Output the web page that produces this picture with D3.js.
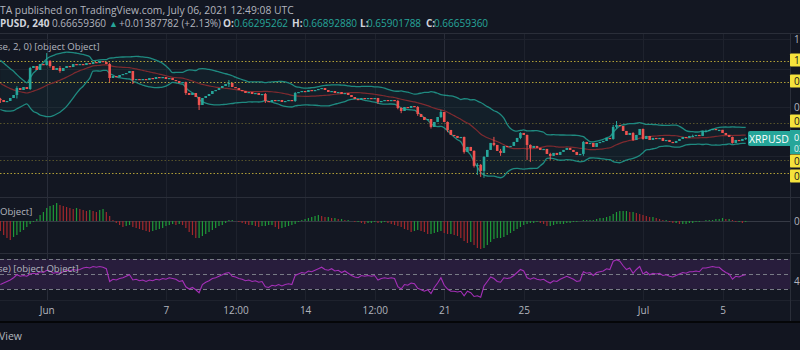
<!DOCTYPE html>
<html><head><meta charset="utf-8">
<script src="https://cdn.jsdelivr.net/npm/d3@7"></script>
<style>html,body{margin:0;padding:0;background:#131722;overflow:hidden}svg{display:block}</style>
</head><body><svg id="c" width="800" height="350"></svg>
<script>
// ---------------- DATA ----------------
// 4h closes before the visible window (Bollinger warm-up), XRPUSD
const warmupCloses = [0.870,0.900,0.930,0.950,0.980,0.960,0.990,1.010,0.990,0.970,0.980,0.960,0.950,0.970,0.990,1.010,1.020,1.040,1.030,1.010,0.990,1.000,0.980,0.970,0.950,0.930,0.900,0.880,0.890,0.870,0.860,0.880,0.870,0.850,0.860,0.840];
// visible 4h closes, from 2021-05-29 16:00 UTC
const closes = [
0.8345,0.8247,0.8296,0.8444,0.8595,0.8957,0.8852,0.9010,0.8905,1.0080,
1.0199,0.9962,1.0320,1.0260,1.0505,1.0199,0.9962,1.0080,0.9903,1.0080,
1.0199,1.0139,1.0320,1.0260,1.0320,1.0260,1.0381,1.0320,1.0443,1.0381,
1.0505,1.0443,1.0320,0.9502,0.9615,0.9558,0.9672,0.9729,0.9787,0.9903,
0.9390,0.9446,0.9390,0.9446,0.9390,0.9502,0.9446,0.9558,0.9502,0.9558,
0.9446,0.9502,0.9390,0.9335,0.9226,0.9280,0.8697,0.8595,0.8697,0.8494,
0.8102,0.8444,0.8544,0.8646,0.8800,0.8852,0.8957,0.9064,0.9171,0.9226,
0.9010,0.8957,0.8852,0.8800,0.8697,0.8748,0.8646,0.8697,0.8595,0.8646,
0.8296,0.8247,0.8345,0.8296,0.8345,0.8247,0.8296,0.8345,0.8296,0.8697,
0.8748,0.8800,0.8748,0.8852,0.8800,0.8852,0.8905,0.8957,0.8852,0.8748,
0.8800,0.8697,0.8748,0.8646,0.8697,0.8595,0.8494,0.8394,0.8345,0.8444,
0.8394,0.8444,0.8394,0.8444,0.8247,0.8296,0.8345,0.8296,0.8345,0.8296,
0.7960,0.7820,0.8007,0.7960,0.8054,0.8007,0.7683,0.7548,0.7416,0.7459,
0.7116,0.7329,0.7548,0.7774,0.7329,0.6991,0.6788,0.6748,0.6669,0.6708,
0.6140,0.6324,0.6177,0.5654,0.5688,0.5490,0.5962,0.6213,0.6475,0.6399,
0.6177,0.6104,0.6361,0.6324,0.6361,0.6513,0.6669,0.6868,0.6788,0.6399,
0.6287,0.6361,0.6287,0.6213,0.6250,0.6068,0.5997,0.6104,0.6033,0.6140,
0.6213,0.6287,0.6213,0.6140,0.6033,0.6068,0.6513,0.6437,0.6475,0.6324,
0.6475,0.6513,0.6551,0.6669,0.6629,0.7116,0.7200,0.7158,0.6950,0.6788,
0.6868,0.6590,0.6788,0.7032,0.6629,0.6748,0.6590,0.6669,0.6629,0.6669,
0.6551,0.6590,0.6513,0.6475,0.6551,0.6629,0.6708,0.6669,0.6748,0.6750,
0.6788,0.6748,0.6950,0.6955,0.6991,0.7032,0.6991,0.6995,0.6868,0.6788,
0.6708,0.6475,0.6590,0.6551,0.66295262,0.66659360];
// notable wicks: [candle index, high, low]
const wicks = [
[0,0.8450,0.8200],[5,0.9050,0.8420],[9,1.0150,0.8850],[14,1.1010,1.0230],[15,1.0560,1.0100],
[18,1.0200,0.9800],[33,1.0400,0.9280],[40,0.9900,0.9170],[56,0.9300,0.8600],[60,0.8500,0.7866],
[69,0.9390,0.9010],[80,0.8700,0.8200],[89,0.8750,0.8250],[114,0.8450,0.8150],[120,0.8350,0.7900],
[121,0.7990,0.7720],[126,0.8050,0.7600],[130,0.7450,0.7050],[133,0.7870,0.7500],[135,0.7350,0.6900],
[140,0.6720,0.6080],[143,0.6200,0.5600],[144,0.5750,0.5360],[145,0.5720,0.5299],[146,0.5990,0.5268],
[149,0.6710,0.6350],[151,0.6250,0.6000],[157,0.6900,0.6620],[159,0.6800,0.5858],[160,0.6420,0.5789],
[166,0.6110,0.5858],[176,0.6550,0.6000],[185,0.7200,0.6600],[186,0.7370,0.7050],[191,0.6900,0.6550],
[194,0.7050,0.6600],[209,0.6800,0.6700],[213,0.7000,0.6900],[221,0.6720,0.6450],[225,0.66892880,0.65901788]];
// MACD histogram per candle (x 0.001)
const macdHist = [
-10,-14,-17,-19,-16,-14,-11,-9,-6,-3,
-1,2,6,9,13,15,16,18,16,15,
14,13,12,13,12,11,10,11,10,9,
11,12,9,5,1,-2,-4,-6,-5,-4,
-6,-7,-8,-9,-10,-11,-10,-9,-8,-7,
-5,-4,-3,-4,-3,-4,-7,-11,-14,-17,
-17,-15,-13,-11,-9,-7,-5,-4,-2,1,
1,0,-1,-2,-3,-4,-4,-5,-6,-5,
-5,-4,-4,-6,-8,-7,-6,-5,-4,-3,
-1,1,2,3,4,5,6,5,4,4,
3,3,2,2,1,1,0,-1,-1,-2,
-3,-2,-2,-1,-2,-2,-1,-2,-3,-4,
-5,-6,-8,-9,-11,-10,-9,-10,-11,-13,
-13,-12,-11,-10,-12,-13,-13,-14,-15,-17,
-20,-22,-21,-24,-27,-28,-27,-24,-21,-18,
-17,-17,-16,-14,-12,-10,-8,-6,-4,-3,
-2,-2,-1,-2,-3,-5,-5,-4,-3,-3,
-3,-2,-2,-1,-1,0,1,1,1,1,
2,3,3,4,5,7,9,10,10,10,
9,9,8,7,6,5,4,4,3,2,
1,1,-1,-2,-2,-3,-3,-3,-2,-2,
-1,-1,0,1,1,1,2,2,3,2,
2,1,-1,-1,-2,-1];
// RSI(14) per candle
const rsiValues = [
36,38,40,42,45,49,47,48,47,50,
51,50,53,52,55,54,51,52,51,53,
55,54,56,55,56,58,59,58,60,59,
60,59,57,40,43,42,44,45,47,49,
42,43,41,42,40,42,41,43,42,44,
43,45,44,43,40,41,33,30,32,29,
25,36,39,41,44,45,47,49,51,52,
47,46,44,43,41,42,40,41,39,40,
33,32,35,34,36,34,36,37,36,48,
50,52,51,54,53,55,57,59,56,55,
57,54,55,52,54,51,48,46,45,48,
47,48,47,48,42,44,45,44,45,44,
33,30,36,35,38,37,31,29,27,29,
24,32,38,45,35,30,27,27,26,27,
21,27,25,20,21,19,34,40,46,44,
40,39,45,44,45,48,52,56,54,45,
43,45,43,42,43,40,38,41,40,43,
45,47,45,43,40,41,53,51,52,48,
52,53,54,57,56,67,69,67,61,56,
58,51,56,60,50,53,49,51,50,51,
48,49,47,46,48,50,52,51,53,53,
54,53,58,58,59,60,59,59,55,52,
50,43,47,46,48,49];
// horizontal support / resistance levels
const levels = [1.0530, 0.9280, 0.7300, 0.5850, 0.5420];
const levelStrong = [true, true, false, false, true];
const priceGridTicks = [1.2, 1.0, 0.8, 0.6];
const priceAxisLabels = [1.2, 0.8];
const tickDates = ["2021-06-01T00:00Z","2021-06-07T00:00Z","2021-06-10T12:00Z","2021-06-14T00:00Z","2021-06-17T12:00Z","2021-06-21T00:00Z","2021-06-25T00:00Z","2021-07-01T00:00Z","2021-07-05T00:00Z"];
const tickLabels = ["Jun","7","12:00","14","12:00","21","25","Jul","5"];
const titleText = "TA published on TradingView.com, July 06, 2021 12:49:08 UTC";
const ohlcLabels = ["PUSD, 240","0.66659360","▲","+0.01387782 (+2.13%)","O:","0.66295262","H:","0.66892880","L:","0.65901788","C:","0.66659360"];
const bbLegend = "se, 2, 0) [object Object]";
const macdLegend = "Object]";
const rsiLegend = "se) [object Object]";
const symbol = "XRPUSD";
const lastPriceText = "0.66659360";
const countdownText = "03:10:52";
const rsiLevels = [70, 50, 30];

// ---------------- SETUP ----------------
const svg = d3.select("#c");
const W = 800, H = 350, AX = 790;
const BG = "#131722", GRID = "#1e222d", SEP = "#2a2e39", TXT = "#b2b5be";
const UP = "#26a69a", DOWN = "#ef5350";
const FONT = "'Open Sans', 'Noto Sans', sans-serif";
svg.append("rect").attr("width", W).attr("height", H).attr("fill", BG);

const t0 = Date.UTC(2021, 4, 29, 16), H4 = 4 * 3600e3;
const N = closes.length;
const times = closes.map((_, i) => new Date(t0 + i * H4));
const x = d3.scaleUtc().domain([times[0], times[N - 1]]).range([0.33, 745.7]);
const y = d3.scaleLog().domain([0.5, 1.2]).range([186.7, 38.5]);

const defs = svg.append("defs");
function clip(id, y0, y1) {
  defs.append("clipPath").attr("id", id).append("rect").attr("x", 0).attr("y", y0).attr("width", AX).attr("height", y1 - y0);
}
clip("cMain", 34, 196); clip("cMacd", 198, 252); clip("cRsi", 254, 299);

// vertical grid
const tDates = tickDates.map(d => new Date(d));
svg.append("g").selectAll("line").data(tDates).join("line")
  .attr("x1", d => Math.round(x(d)) + 0.5).attr("x2", d => Math.round(x(d)) + 0.5)
  .attr("y1", 34).attr("y2", 300)
  .attr("stroke", (d, i) => (i === 0 || i === 5) ? "#292d39" : GRID).attr("stroke-width", 1);
// price grid
svg.append("g").selectAll("line").data(priceGridTicks).join("line")
  .attr("x1", 0).attr("x2", AX).attr("y1", d => Math.round(y(d)) + 0.5).attr("y2", d => Math.round(y(d)) + 0.5)
  .attr("stroke", GRID);

// separators
[[33, SEP], [197, SEP], [253, SEP], [300, GRID]].forEach(([yy, c]) => {
  svg.append("line").attr("x1", 0).attr("x2", W).attr("y1", yy + 0.5).attr("y2", yy + 0.5).attr("stroke", c);
});
svg.append("rect").attr("x", 0).attr("y", 321).attr("width", W).attr("height", 2).attr("fill", "#050608");
svg.append("rect").attr("x", 0).attr("y", 323).attr("width", W).attr("height", 27).attr("fill", "#121520");
svg.append("line").attr("x1", AX + 0.5).attr("x2", AX + 0.5).attr("y1", 34).attr("y2", 321).attr("stroke", SEP);

// ---------------- BOLLINGER (20, 2) ----------------
const all = warmupCloses.concat(closes);
const WU = warmupCloses.length;
const bb = [];
for (let k = WU; k < all.length; k++) {
  const win = all.slice(k - 19, k + 1);
  const m = d3.mean(win);
  const sd = Math.sqrt(d3.mean(win, v => (v - m) * (v - m)));
  bb.push({ t: times[k - WU], m, u: m + 2 * sd, l: m - 2 * sd });
}

// ---------------- MAIN PANE ----------------
const main = svg.append("g").attr("clip-path", "url(#cMain)");
main.append("path").datum(bb)
  .attr("d", d3.area().x(d => x(d.t)).y0(d => y(d.l)).y1(d => y(d.u)).curve(d3.curveMonotoneX))
  .attr("fill", "#26a69a").attr("fill-opacity", 0.06);
main.append("g").selectAll("line").data(levels).join("line")
  .attr("x1", 0).attr("x2", AX).attr("y1", d => Math.round(y(d)) + 0.5).attr("y2", d => Math.round(y(d)) + 0.5)
  .attr("stroke", "#d8c23c").attr("stroke-opacity", (d, i) => levelStrong[i] ? 0.8 : 0.35)
  .attr("stroke-dasharray", "1.5,2");
const ln = k => d3.line().x(d => x(d.t)).y(d => y(d[k])).curve(d3.curveMonotoneX);
main.append("path").datum(bb).attr("d", ln("m")).attr("fill", "none").attr("stroke", "#7e2a2f").attr("stroke-width", 1.2);
main.append("path").datum(bb).attr("d", ln("u")).attr("fill", "none").attr("stroke", "#1f8a80").attr("stroke-width", 1.3);
main.append("path").datum(bb).attr("d", ln("l")).attr("fill", "none").attr("stroke", "#1f8a80").attr("stroke-width", 1.3);
const wickMap = new Map(wicks.map(w => [w[0], w]));
const candles = closes.map((c, i) => {
  const o = i === 0 ? warmupCloses[WU - 1] : closes[i - 1];
  const w = wickMap.get(i);
  return { t: times[i], o, c, h: Math.max(o, c, w ? w[1] : 0), l: Math.min(o, c, w ? w[2] : 99) };
});
const cg = main.append("g");
cg.selectAll("line").data(candles).join("line")
  .attr("x1", d => x(d.t)).attr("x2", d => x(d.t)).attr("y1", d => y(d.h)).attr("y2", d => y(d.l))
  .attr("stroke", d => d.c >= d.o ? UP : DOWN).attr("stroke-width", 1);
cg.selectAll("rect").data(candles).join("rect")
  .attr("x", d => x(d.t) - 1.3).attr("width", 2.6)
  .attr("y", d => y(Math.max(d.o, d.c)))
  .attr("height", d => Math.max(1.2, Math.abs(y(d.o) - y(d.c))))
  .attr("fill", d => d.c >= d.o ? UP : DOWN);

// ---------------- MACD PANE ----------------
const hist = macdHist.map((v, i) => ({ t: times[i], v: v / 1000, up: i === 0 ? false : v >= macdHist[i - 1] }));
const yh = d3.scaleLinear().domain([-0.028, 0]).range([249, 221]);
const mg = svg.append("g").attr("clip-path", "url(#cMacd)");
mg.append("line").attr("x1", 0).attr("x2", AX).attr("y1", 221.5).attr("y2", 221.5).attr("stroke", "#363a45");
mg.selectAll("rect").data(hist).join("rect")
  .attr("x", d => x(d.t) - 0.6).attr("width", 1.2)
  .attr("y", d => Math.min(yh(d.v), yh(0))).attr("height", d => Math.abs(yh(d.v) - yh(0)))
  .attr("fill", d => d.up ? "#1f9a38" : "#a3282c");

// ---------------- RSI PANE ----------------
const rsi = rsiValues.map((v, i) => ({ t: times[i], v }));
const yr = d3.scaleLinear().domain([30, 70]).range([289, 259]);
const rg = svg.append("g").attr("clip-path", "url(#cRsi)");
rg.append("rect").attr("x", 0).attr("width", AX).attr("y", yr(70)).attr("height", yr(30) - yr(70))
  .attr("fill", "#281d3c");
rg.selectAll("line").data(rsiLevels).join("line")
  .attr("x1", 0).attr("x2", AX).attr("y1", d => yr(d) + 0.5).attr("y2", d => yr(d) + 0.5)
  .attr("stroke", "#787b86").attr("stroke-dasharray", "4,3").attr("stroke-width", 1);
rg.append("path").datum(rsi)
  .attr("d", d3.line().x(d => x(d.t)).y(d => yr(d.v)))
  .attr("fill", "none").attr("stroke", "#a52fb8").attr("stroke-width", 1.1);

// ---------------- X AXIS ----------------
const xa = svg.append("g").attr("transform", "translate(0,303)")
  .call(d3.axisBottom(x).tickValues(tDates).tickFormat((d, i) => tickLabels[i]).tickSize(0).tickPadding(4));
xa.select(".domain").remove();
xa.selectAll("text").attr("fill", TXT).attr("font-family", FONT).attr("font-size", 10);

// ---------------- RIGHT AXIS ----------------
const ra = svg.append("g");
ra.selectAll("text.pl").data(priceAxisLabels).join("text").attr("class", "pl")
  .attr("x", 794).attr("y", d => y(d) + 4).text(d => d.toFixed(8))
  .attr("fill", TXT).attr("font-family", FONT).attr("font-size", 10);
const boxY = [60, 81, 121, 161, 176];
levels.forEach((v, i) => {
  ra.append("rect").attr("x", 790).attr("y", boxY[i] - 6.5).attr("width", 60).attr("height", 13).attr("fill", "#f5e23c").attr("rx", 1);
  ra.append("text").attr("x", 794).attr("y", boxY[i] + 4).text(v.toFixed(8))
    .attr("fill", "#131722").attr("font-family", FONT).attr("font-size", 10);
});
ra.append("rect").attr("x", 748).attr("y", 131).attr("width", 44).attr("height", 15).attr("rx", 2).attr("fill", UP);
ra.append("text").attr("x", 769).attr("y", 142.5).attr("text-anchor", "middle").text(symbol)
  .attr("fill", "#ffffff").attr("font-family", FONT).attr("font-size", 10.5);
ra.append("rect").attr("x", 790).attr("y", 130).attr("width", 60).attr("height", 24).attr("fill", UP);
ra.append("text").attr("x", 794).attr("y", 140.5).text(lastPriceText).attr("fill", "#fff").attr("font-family", FONT).attr("font-size", 9);
ra.append("text").attr("x", 794).attr("y", 151.5).text(countdownText).attr("fill", "#e0f2f1").attr("font-family", FONT).attr("font-size", 8.5);
ra.append("text").attr("x", 794).attr("y", 225).text("0.00000000").attr("fill", TXT).attr("font-family", FONT).attr("font-size", 10);
ra.append("text").attr("x", 794).attr("y", 285).text("45.0000").attr("fill", TXT).attr("font-family", FONT).attr("font-size", 10);

// ---------------- TEXTS ----------------
svg.append("text").attr("x", 0).attr("y", 14).text(titleText)
  .attr("fill", TXT).attr("font-family", FONT).attr("font-size", 10.3);
const segX = [0, 52, 109, 119, 223, 234, 292, 303, 360, 367, 426, 434];
const segCol = ["#d1d4dc", TXT, UP, TXT, "#d1d4dc", UP, "#d1d4dc", UP, "#d1d4dc", UP, "#d1d4dc", UP];
const segBold = [true, false, false, false, true, false, true, false, true, false, true, false];
ohlcLabels.forEach((s, i) => {
  svg.append("text").attr("x", segX[i]).attr("y", 27).text(s)
    .attr("fill", segCol[i]).attr("font-weight", segBold[i] ? 700 : 400)
    .attr("font-family", FONT).attr("font-size", i === 2 ? 9 : 10);
});
svg.append("text").attr("x", -2).attr("y", 50).text(bbLegend).attr("fill", TXT).attr("font-family", FONT).attr("font-size", 9.6);
svg.append("text").attr("x", 0).attr("y", 215).text(macdLegend).attr("fill", TXT).attr("font-family", FONT).attr("font-size", 9.6);
svg.append("text").attr("x", -2).attr("y", 272).text(rsiLegend).attr("fill", TXT).attr("font-family", FONT).attr("font-size", 9.6);
svg.append("text").attr("x", -1).attr("y", 340).text("View").attr("fill", TXT).attr("font-family", FONT).attr("font-size", 10.5);
</script></body></html>
